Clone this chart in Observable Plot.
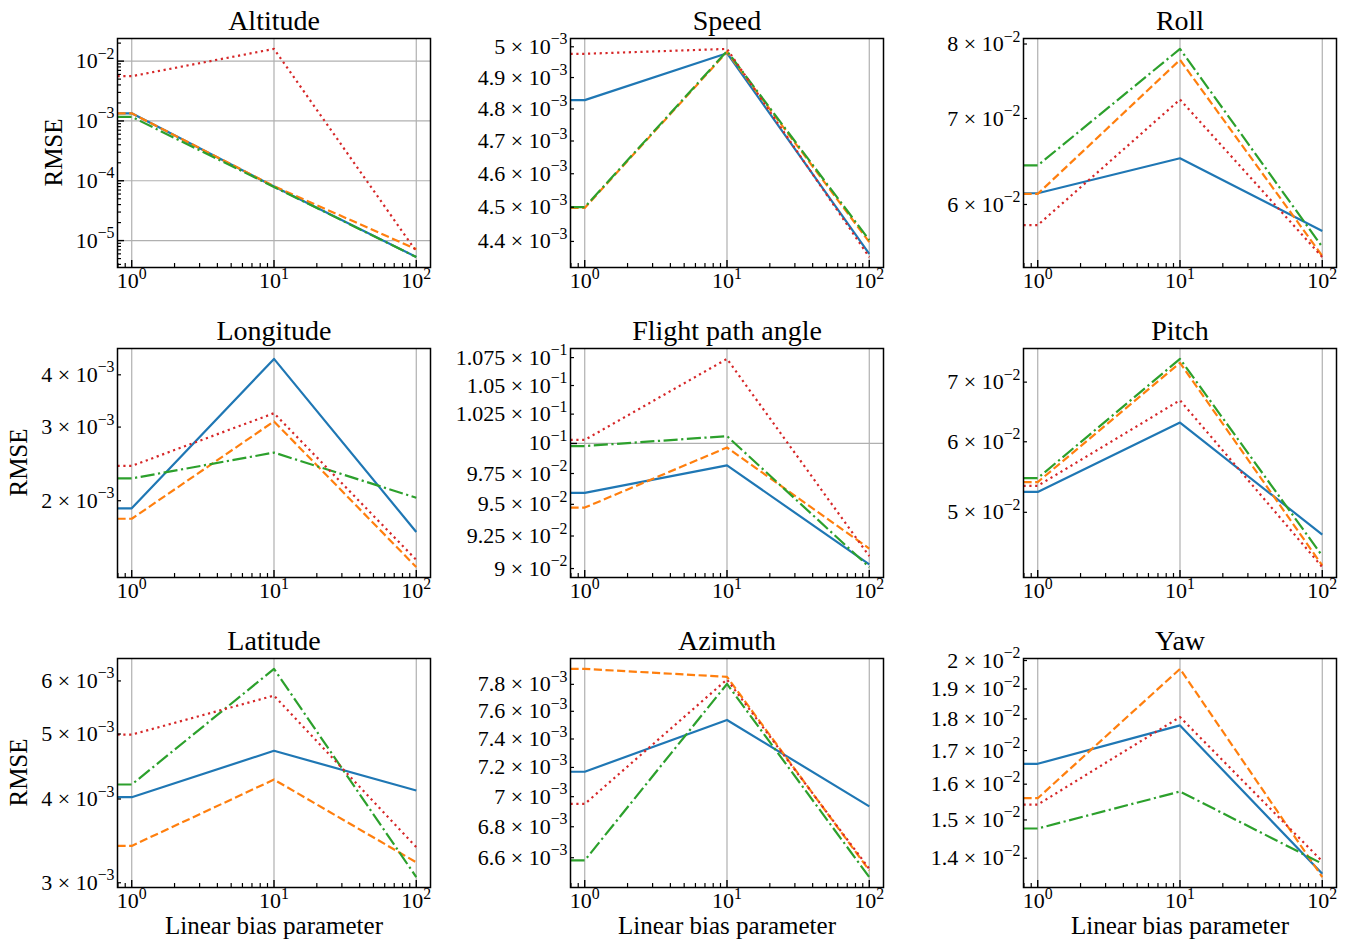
<!DOCTYPE html>
<html>
<head>
<meta charset="utf-8">
<script src="https://cdn.jsdelivr.net/npm/d3@7"></script>
<script src="https://cdn.jsdelivr.net/npm/@observablehq/plot@0.6"></script>
<style>
  html, body { margin: 0; padding: 0; background: #fff; }
  #fig { position: relative; width: 1350px; height: 946px; font-family: "Liberation Serif", serif; }
  #fig svg { position: absolute; }
</style>
</head>
<body>
<div id="fig"></div>
<script>
// Linear bias parameter values (log x axis)
const biasParams = [1, 10, 100];

const panelTitles = [
  "Altitude", "Speed", "Roll",
  "Longitude", "Flight path angle", "Pitch",
  "Latitude", "Azimuth", "Yaw"
];

// RMSE per series (solid, dashed, dash-dot, dotted), one value per bias parameter
const altitudeRmse = [
  [1.34e-3, 8.0e-5, 5.33e-6],
  [1.34e-3, 8.1e-5, 7.2e-6],
  [1.17e-3, 7.9e-5, 5.3e-6],
  [5.6e-3, 1.6e-2, 6.6e-6]
];
const speedRmse = [
  [4.828e-3, 4.979e-3, 4.364e-3],
  [4.498e-3, 4.983e-3, 4.398e-3],
  [4.500e-3, 4.986e-3, 4.404e-3],
  [4.977e-3, 4.993e-3, 4.355e-3]
];
const rollRmse = [
  [0.06122, 0.06518, 0.05721],
  [0.06115, 0.07776, 0.05471],
  [0.06435, 0.07930, 0.05560],
  [0.05782, 0.07242, 0.05460]
];
const longitudeRmse = [
  [1.918e-3, 4.366e-3, 1.684e-3],
  [1.811e-3, 3.095e-3, 1.388e-3],
  [2.261e-3, 2.607e-3, 2.033e-3],
  [2.423e-3, 3.238e-3, 1.444e-3]
];
const flightPathRmse = [
  [0.09592, 0.09817, 0.09031],
  [0.09474, 0.09966, 0.09153],
  [0.09978, 0.10062, 0.09011],
  [0.10030, 0.10738, 0.09095]
];
const pitchRmse = [
  [0.05271, 0.06305, 0.04720],
  [0.05406, 0.07357, 0.04358],
  [0.05462, 0.07433, 0.04467],
  [0.05354, 0.06679, 0.04340]
];
const latitudeRmse = [
  [4.025e-3, 4.720e-3, 4.118e-3],
  [3.405e-3, 4.276e-3, 3.218e-3],
  [4.204e-3, 6.253e-3, 3.059e-3],
  [4.990e-3, 5.705e-3, 3.390e-3]
];
const azimuthRmse = [
  [7.170e-3, 7.537e-3, 6.935e-3],
  [7.917e-3, 7.857e-3, 6.520e-3],
  [6.583e-3, 7.803e-3, 6.478e-3],
  [6.951e-3, 7.837e-3, 6.530e-3]
];
const yawRmse = [
  [1.660e-2, 1.779e-2, 1.361e-2],
  [1.560e-2, 1.970e-2, 1.353e-2],
  [1.477e-2, 1.579e-2, 1.386e-2],
  [1.542e-2, 1.806e-2, 1.392e-2]
];

// Labelled y ticks per panel
const altitudeTicks = [1e-5, 1e-4, 1e-3, 1e-2];
const speedTicks = [4.4e-3, 4.5e-3, 4.6e-3, 4.7e-3, 4.8e-3, 4.9e-3, 5e-3];
const rollTicks = [6e-2, 7e-2, 8e-2];
const longitudeTicks = [2e-3, 3e-3, 4e-3];
const flightPathTicks = [9e-2, 9.25e-2, 9.5e-2, 9.75e-2, 1e-1, 1.025e-1, 1.05e-1, 1.075e-1];
const pitchTicks = [5e-2, 6e-2, 7e-2];
const latitudeTicks = [3e-3, 4e-3, 5e-3, 6e-3];
const azimuthTicks = [6.6e-3, 6.8e-3, 7e-3, 7.2e-3, 7.4e-3, 7.6e-3, 7.8e-3];
const yawTicks = [1.4e-2, 1.5e-2, 1.6e-2, 1.7e-2, 1.8e-2, 1.9e-2, 2e-2];

const panelRmse = [altitudeRmse, speedRmse, rollRmse, longitudeRmse, flightPathRmse, pitchRmse, latitudeRmse, azimuthRmse, yawRmse];
const panelTicks = [altitudeTicks, speedTicks, rollTicks, longitudeTicks, flightPathTicks, pitchTicks, latitudeTicks, azimuthTicks, yawTicks];

// Series styling
const seriesColors = ["#1f77b4", "#ff7f0e", "#2ca02c", "#d62728"];
const lineWidth = 2.2;
const seriesDash = [null, [3.7, 1.6], [6.4, 1.6, 1, 1.6], [1, 1.65]]
  .map(d => d ? d.map(v => (v * lineWidth).toFixed(2)).join(",") : null);

const serif = '"Liberation Serif", "Times New Roman", serif';

// Grid layout
const colLeft = [0, 452.5, 906];
const rowTop = [0, 310, 620];
const marginLeft = 117, frameW = 313, marginRight = 17;
const marginTop = 38, frameH = 229;

// x domain: 5% padding (in decades) either side of the data
const lx = biasParams.map(Math.log10);
const xPad = 0.05 * (d3.max(lx) - d3.min(lx));
const xDomain = [10 ** (d3.min(lx) - xPad), 10 ** (d3.max(lx) + xPad)];

function logMinors(domain) {
  const out = [];
  const e0 = Math.floor(Math.log10(domain[0])), e1 = Math.ceil(Math.log10(domain[1]));
  for (let e = e0; e <= e1; e++) {
    for (let m = 2; m <= 9; m++) {
      const v = m * 10 ** e;
      if (v >= domain[0] && v <= domain[1]) out.push(v);
    }
  }
  return out;
}
function logDecades(domain) {
  const out = [];
  for (let e = Math.ceil(Math.log10(domain[0]) - 1e-9); e <= Math.floor(Math.log10(domain[1]) + 1e-9); e++) out.push(10 ** e);
  return out;
}
function sciLabel(v) {
  const e = Math.floor(Math.log10(v) + 1e-9);
  const m = +(v / 10 ** e).toFixed(4);
  const exp = "^" + (e < 0 ? "\u2212" + (-e) : String(e));
  return m === 1 ? "10" + exp : `${m} \u00d7 10${exp}`;
}

const xMinors = logMinors(xDomain);
const fig = document.getElementById("fig");
const ns = "http://www.w3.org/2000/svg";

panelTitles.forEach((title, i) => {
  const row = Math.floor(i / 3), col = i % 3;
  const lastRow = row === 2;
  const marginBottom = lastRow ? 59 : 43;
  const rmse = panelRmse[i];

  const ly = rmse.flat().map(Math.log10);
  const yPad = 0.05 * (d3.max(ly) - d3.min(ly));
  const yDomain = [10 ** (d3.min(ly) - yPad), 10 ** (d3.max(ly) + yPad)];
  const inY = v => v >= yDomain[0] && v <= yDomain[1];
  const ticks = panelTicks[i].filter(inY);
  const yDecades = logDecades(yDomain);
  // short ticks: labelled non-decade values, plus 2..9 subdivisions on multi-decade axes
  const yMinors = yDecades.length > 1 ? logMinors(yDomain) : ticks.filter(t => !yDecades.includes(t));

  // each line runs flat from the left frame edge to its first value
  const lines = rmse.map((vals, s) => Plot.line(
    [{x: xDomain[0], y: vals[0]}, ...biasParams.map((b, k) => ({x: b, y: vals[k]}))],
    {x: "x", y: "y", stroke: seriesColors[s], strokeWidth: lineWidth,
     strokeDasharray: seriesDash[s], strokeLinecap: "butt", strokeLinejoin: "round"}
  ));

  const svg = Plot.plot({
    width: marginLeft + frameW + marginRight,
    height: marginTop + frameH + marginBottom,
    marginLeft, marginRight, marginTop, marginBottom,
    style: {fontFamily: serif, background: "none", color: "black", overflow: "visible"},
    x: {type: "log", domain: xDomain, axis: null},
    y: {type: "log", domain: yDomain, axis: null},
    marks: [
      Plot.ruleX(biasParams, {x: d => d, stroke: "#b0b0b0", strokeWidth: 1.2}),
      Plot.ruleY(yDecades, {y: d => d, stroke: "#b0b0b0", strokeWidth: 1.2}),
      ...lines,
      Plot.tickX(xMinors, {x: d => d, insetTop: frameH - 4, stroke: "black", strokeWidth: 1.2}),
      Plot.tickX(biasParams, {x: d => d, insetTop: frameH - 7, stroke: "black", strokeWidth: 1.4}),
      Plot.tickY(yMinors, {y: d => d, insetRight: frameW - 4, stroke: "black", strokeWidth: 1.2}),
      Plot.tickY(yDecades, {y: d => d, insetRight: frameW - 7, stroke: "black", strokeWidth: 1.4}),
      Plot.frame({stroke: "black", strokeWidth: 1.5}),
      // tick labels
      Plot.text(ticks, {y: d => d, text: sciLabel, frameAnchor: "left", textAnchor: "end", dx: -3,
        lineAnchor: "middle", fontSize: 22, fontFamily: serif, fill: "black"}),
      Plot.text(biasParams, {x: d => d, text: sciLabel, frameAnchor: "bottom", lineAnchor: "top", dy: 5,
        fontSize: 22, fontFamily: serif, fill: "black"}),
      Plot.text([title], {frameAnchor: "top", dy: -8.7, lineAnchor: "bottom", fontSize: 28, fontFamily: serif, fill: "black"}),
      ...(lastRow ? [Plot.text(["Linear bias parameter"], {frameAnchor: "bottom", dy: 46, lineAnchor: "bottom",
        fontSize: 25, fontFamily: serif, fill: "black"})] : [])
    ]
  });
  svg.style.left = colLeft[col] + "px";
  svg.style.top = rowTop[row] + "px";
  fig.appendChild(svg);

  // turn "a × 10^e" tick labels into superscripted exponents
  svg.querySelectorAll("text").forEach(t => {
    const s = t.textContent;
    if (!s.includes("^")) return;
    const [base, exp] = s.split("^");
    t.textContent = "";
    const a = document.createElementNS(ns, "tspan");
    a.textContent = base;
    const b = document.createElementNS(ns, "tspan");
    b.textContent = exp;
    b.setAttribute("font-size", "0.72em");
    b.setAttribute("dy", "-0.6em");
    t.appendChild(a);
    t.appendChild(b);
  });

  // RMSE label beside the y tick labels of the first column
  if (col === 0) {
    const origin = svg.getBoundingClientRect();
    let labelLeft = marginLeft;
    svg.querySelectorAll("text").forEach(t => {
      const r = t.getBoundingClientRect();
      const left = r.left - origin.left, right = r.right - origin.left;
      if (r.width > 0 && right <= marginLeft + 1) labelLeft = Math.min(labelLeft, left);
    });
    const x = labelLeft - 14, y = marginTop + frameH / 2;
    const lab = document.createElementNS(ns, "text");
    lab.setAttribute("x", x);
    lab.setAttribute("y", y);
    lab.setAttribute("transform", `rotate(-90 ${x} ${y})`);
    lab.setAttribute("text-anchor", "middle");
    lab.setAttribute("font-size", "25");
    lab.setAttribute("font-family", serif);
    lab.setAttribute("fill", "black");
    lab.textContent = "RMSE";
    svg.appendChild(lab);
  }
});
</script>
</body>
</html>
